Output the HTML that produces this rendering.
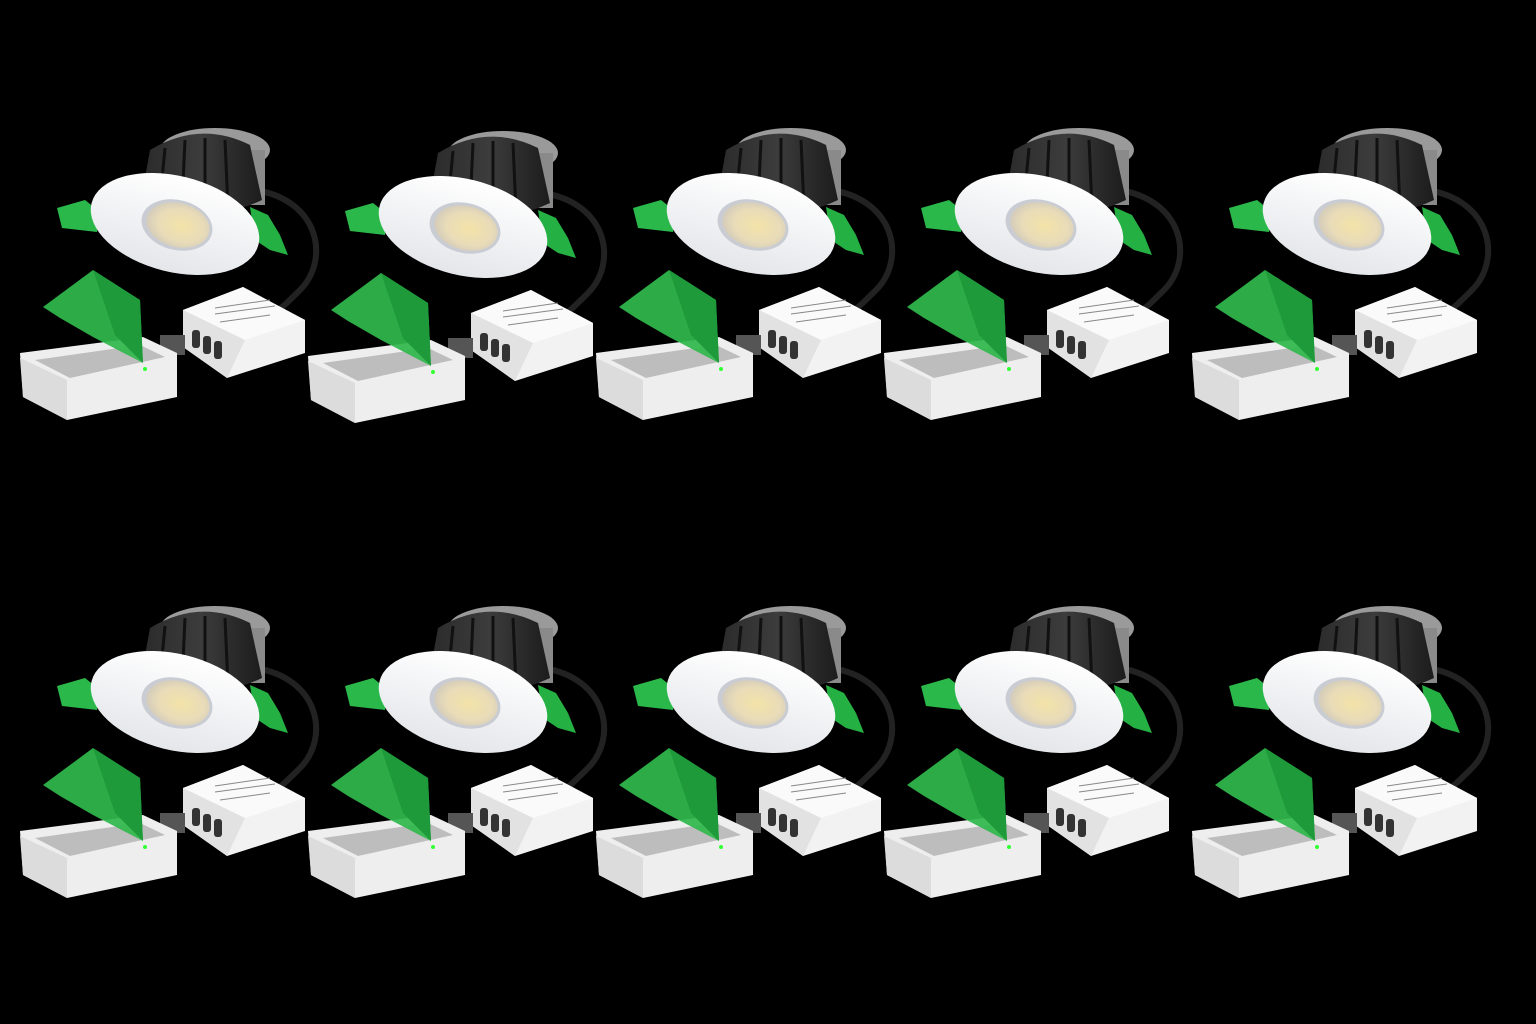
<!DOCTYPE html>
<html><head><meta charset="utf-8"><style>html,body{margin:0;padding:0;background:#000;width:1536px;height:1024px;overflow:hidden}</style></head>
<body>
<svg width="1536" height="1024" viewBox="0 0 1536 1024" xmlns="http://www.w3.org/2000/svg">
<defs>
<radialGradient id="led" cx="0.55" cy="0.5" r="0.6"><stop offset="0" stop-color="#f3e3a8"/><stop offset="0.6" stop-color="#e9dcb8"/><stop offset="1" stop-color="#cfc8bb"/></radialGradient>
<linearGradient id="hs" x1="0" x2="1"><stop offset="0" stop-color="#2a2a2a"/><stop offset="0.5" stop-color="#3c3c3c"/><stop offset="1" stop-color="#1c1c1c"/></linearGradient>
<linearGradient id="bez" x1="0" y1="0" x2="0" y2="1"><stop offset="0" stop-color="#fff"/><stop offset="1" stop-color="#e4e6ea"/></linearGradient>
<g id="u">
  <!-- cable -->
  <path d="M255 190 C320 200 330 260 300 290 C285 305 280 310 270 315" fill="none" stroke="#222" stroke-width="6"/>
  <!-- heatsink silver top -->
  <ellipse cx="215" cy="150" rx="55" ry="22" fill="#9a9a9a"/>
  <rect x="240" y="150" width="25" height="55" fill="#8a8a8a"/>
  <!-- heatsink body -->
  <path d="M150 150 Q200 120 250 145 L262 200 Q210 225 140 205 Z" fill="url(#hs)"/>
  <g stroke="#111" stroke-width="3"><line x1="165" y1="148" x2="160" y2="200"/><line x1="185" y1="140" x2="182" y2="205"/><line x1="205" y1="138" x2="205" y2="208"/><line x1="225" y1="140" x2="228" y2="208"/></g>
  <!-- clips -->
  <path d="M57 208 L85 200 L100 212 L97 232 L62 228 Z" fill="#2bb84a"/>
  <path d="M250 207 L268 215 L280 235 L288 255 L270 250 L255 240 Z" fill="#25b044"/>
  <!-- bezel -->
  <ellipse cx="175" cy="224" rx="86" ry="48" transform="rotate(14 175 224)" fill="url(#bez)"/>
  <ellipse cx="177" cy="225" rx="36" ry="25" transform="rotate(14 177 225)" fill="#c9ccd2"/>
  <ellipse cx="178" cy="225" rx="32" ry="22" transform="rotate(14 178 225)" fill="url(#led)"/>
  <!-- driver -->
  <path d="M183 310 L243 287 L305 320 L305 353 L227 378 L183 347 Z" fill="#f2f2f2"/>
  <path d="M183 310 L243 287 L305 320 L245 340 Z" fill="#fafafa"/>
  <path d="M183 310 L245 340 L227 378 L183 347 Z" fill="#e2e2e2"/>
  <g fill="#333"><rect x="192" y="330" width="8" height="18" rx="3"/><rect x="203" y="336" width="8" height="18" rx="3"/><rect x="214" y="341" width="8" height="18" rx="3"/></g>
  <g stroke="#888" stroke-width="1"><line x1="215" y1="308" x2="270" y2="300"/><line x1="215" y1="314" x2="275" y2="306"/><line x1="220" y1="322" x2="270" y2="315"/></g>
  <rect x="160" y="335" width="25" height="20" fill="#555"/>
  <!-- junction box -->
  <path d="M20 353 L143 337 L177 353 L177 397 L67 420 L23 397 Z" fill="#eeeeee"/>
  <path d="M35 360 L140 345 L165 357 L70 378 Z" fill="#bdbdbd"/>
  <path d="M23 397 L67 420 L67 380 L20 358 Z" fill="#dcdcdc"/>
  <!-- green lid -->
  <path d="M43 307 L93 270 L140 300 L143 363 L93 337 L60 318 Z" fill="#2fb84c" opacity="0.93"/>
  <path d="M93 270 L140 300 L143 363 L115 335 Z" fill="#1f9a3a"/>
  <circle cx="145" cy="369" r="2" fill="#3f3"/>
</g>
</defs>
<rect width="1536" height="1024" fill="#000"/>
<use href="#u" x="0" y="0"/>
<use href="#u" x="288" y="3"/>
<use href="#u" x="576" y="0"/>
<use href="#u" x="864" y="0"/>
<use href="#u" x="1172" y="0"/>
<use href="#u" x="0" y="478"/>
<use href="#u" x="288" y="478"/>
<use href="#u" x="576" y="478"/>
<use href="#u" x="864" y="478"/>
<use href="#u" x="1172" y="478"/>
</svg>
</body></html>
